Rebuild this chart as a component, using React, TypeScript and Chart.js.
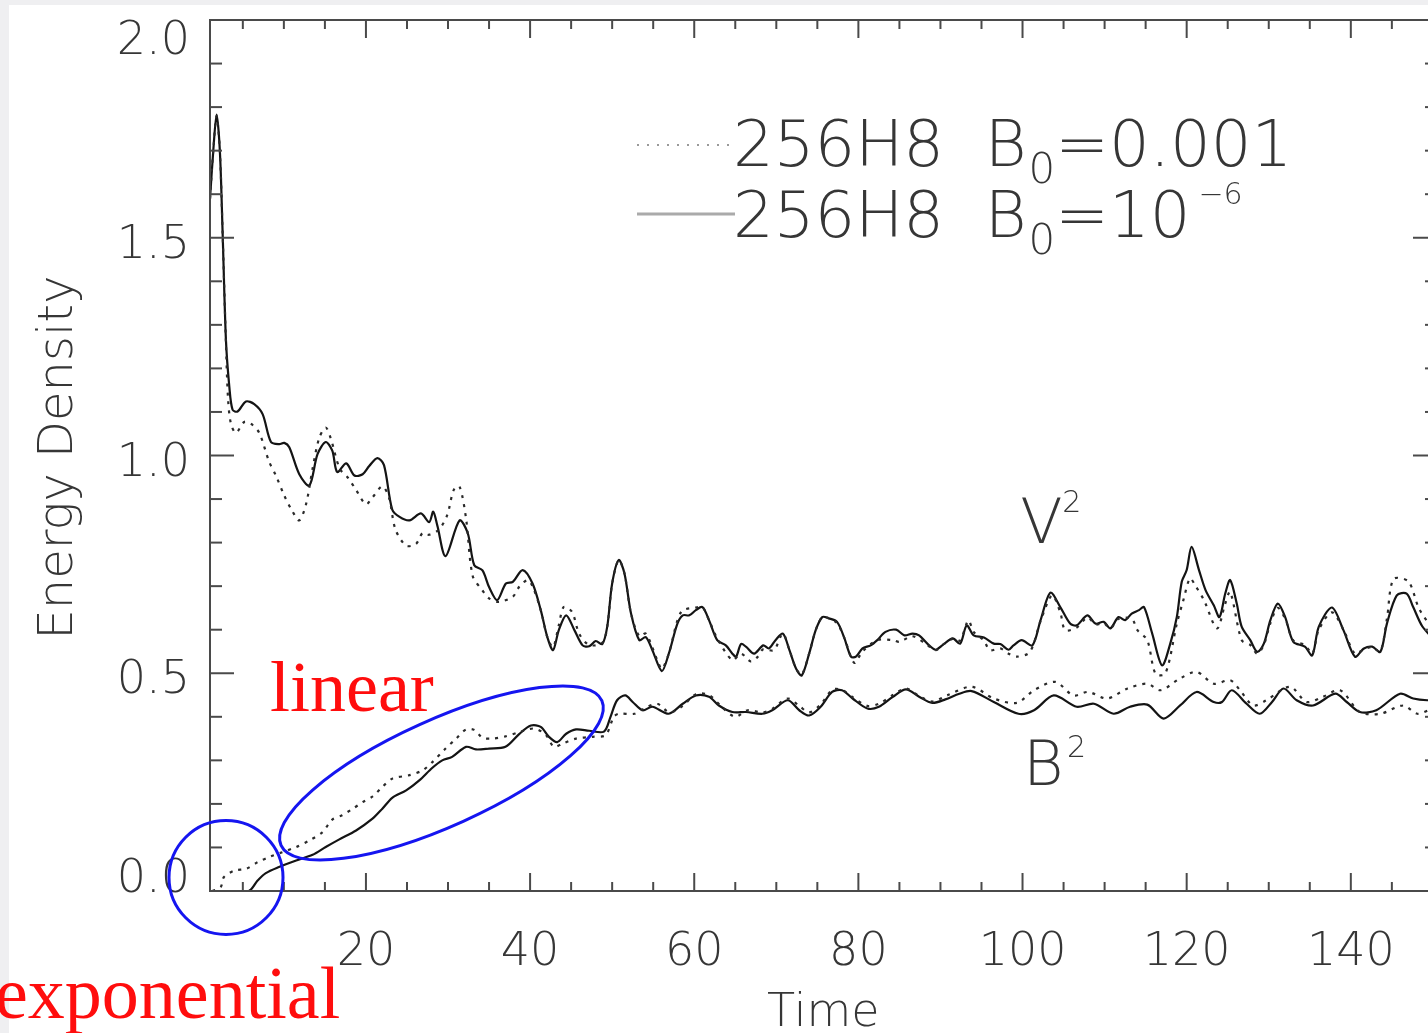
import { useEffect, useRef } from "react";
import { Chart, registerables } from "chart.js";

Chart.register(...registerables);

// ---------- data ----------
const vSolidT = [1.0, 1.4, 1.8, 2.2, 2.54, 2.94, 3.35, 3.75, 4.36, 5.38, 6.39, 7.41, 8.43, 9.44, 10.05, 10.66, 11.88, 13.1, 14.1, 15.1, 15.9, 16.5, 17.6, 18.6, 19.6, 20.4, 21.4, 22.2, 23.2, 24.1, 25.3, 26.7, 27.7, 28.2, 28.7, 29.7, 31.4, 32.4, 33.2, 34.2, 35.0, 36.0, 37.05, 37.9, 39.1, 40.3, 41.3, 42.1, 42.8, 43.5, 44.4, 45.4, 46.4, 47.2, 48.0, 48.8, 49.4, 50.0, 50.8, 51.5, 52.3, 53.3, 54.1, 54.9, 56.05, 56.9, 57.95, 58.6, 59.4, 60.2, 61.0, 61.8, 62.8, 63.85, 64.65, 65.1, 65.7, 66.3, 67.3, 68.4, 69.1, 69.9, 70.8, 71.6, 72.4, 73.1, 74.0, 74.8, 75.6, 76.4, 77.4, 78.25, 79.1, 79.7, 80.5, 81.5, 82.3, 83.3, 84.6, 85.6, 86.6, 87.4, 88.4, 89.4, 90.4, 91.5, 92.4, 93.2, 94.05, 95.3, 96.5, 97.3, 98.3, 98.9, 99.9, 101.2, 102.2, 103.4, 104.6, 105.8, 106.6, 107.9, 108.9, 109.9, 110.7, 111.7, 112.5, 113.3, 114.2, 114.8, 115.8, 117.0, 118.0, 118.8, 119.4, 120.0, 120.6, 121.5, 122.3, 123.3, 124.0, 124.7, 125.3, 126.1, 126.7, 127.75, 128.6, 129.4, 130.2, 131.1, 132.0, 133.0, 134.4, 135.3, 136.1, 137.7, 139.1, 140.5, 141.6, 142.6, 143.6, 144.4, 145.6, 146.8, 147.6, 148.7, 150.0];
const vSolidY = [1.59, 1.70, 1.783, 1.70, 1.51, 1.266, 1.159, 1.105, 1.101, 1.124, 1.118, 1.095, 1.031, 1.026, 1.029, 1.019, 0.957, 0.931, 1.003, 1.031, 1.011, 0.962, 0.982, 0.954, 0.957, 0.976, 0.994, 0.978, 0.876, 0.859, 0.851, 0.867, 0.847, 0.871, 0.839, 0.769, 0.851, 0.822, 0.748, 0.736, 0.698, 0.668, 0.706, 0.710, 0.737, 0.706, 0.645, 0.583, 0.553, 0.599, 0.633, 0.599, 0.564, 0.562, 0.574, 0.567, 0.607, 0.706, 0.760, 0.729, 0.637, 0.576, 0.583, 0.553, 0.505, 0.545, 0.614, 0.633, 0.633, 0.645, 0.652, 0.622, 0.576, 0.564, 0.545, 0.538, 0.567, 0.561, 0.545, 0.564, 0.557, 0.576, 0.591, 0.553, 0.511, 0.495, 0.545, 0.599, 0.629, 0.626, 0.618, 0.583, 0.538, 0.538, 0.557, 0.564, 0.576, 0.595, 0.600, 0.587, 0.591, 0.587, 0.568, 0.554, 0.567, 0.580, 0.568, 0.610, 0.587, 0.582, 0.568, 0.567, 0.554, 0.564, 0.576, 0.564, 0.622, 0.685, 0.652, 0.614, 0.610, 0.633, 0.614, 0.618, 0.603, 0.629, 0.622, 0.637, 0.645, 0.652, 0.591, 0.518, 0.568, 0.629, 0.710, 0.737, 0.790, 0.737, 0.691, 0.656, 0.629, 0.683, 0.714, 0.660, 0.607, 0.576, 0.549, 0.568, 0.622, 0.660, 0.629, 0.572, 0.561, 0.541, 0.607, 0.651, 0.599, 0.538, 0.557, 0.561, 0.549, 0.614, 0.679, 0.683, 0.652, 0.608, 0.580];

const vDotT = [1.0, 1.4, 1.8, 2.2, 2.54, 2.94, 3.2, 3.55, 4.16, 5.17, 5.98, 7.0, 8.2, 9.03, 10.05, 11.07, 11.88, 12.7, 13.5, 14.3, 15.1, 15.7, 16.8, 17.8, 18.8, 20.0, 20.8, 22.0, 22.8, 23.6, 24.9, 26.1, 26.9, 27.7, 28.9, 29.9, 30.7, 31.4, 32.2, 33.0, 34.2, 35.0, 36.2, 37.9, 38.7, 39.7, 40.3, 41.3, 42.1, 42.8, 43.5, 44.1, 45.1, 46.0, 47.2, 48.8, 49.4, 50.0, 50.8, 51.5, 52.3, 53.3, 54.1, 55.5, 56.05, 56.9, 58.4, 60.2, 61.0, 61.8, 62.8, 64.65, 65.7, 66.9, 67.7, 68.4, 69.7, 70.8, 71.6, 72.4, 73.1, 74.0, 74.8, 75.6, 76.4, 77.4, 78.25, 79.5, 80.5, 82.3, 84.2, 85.0, 86.6, 88.4, 89.4, 90.4, 91.6, 92.4, 93.4, 94.05, 95.3, 96.0, 97.3, 98.3, 99.3, 100.9, 102.2, 103.6, 104.6, 105.2, 106.6, 107.9, 108.9, 109.9, 110.7, 111.7, 113.3, 114.0, 115.2, 116.2, 117.4, 118.8, 119.6, 120.4, 121.0, 122.1, 123.7, 124.7, 125.3, 126.7, 127.75, 128.6, 129.4, 130.2, 131.1, 132.0, 133.0, 134.4, 135.3, 136.1, 137.7, 139.1, 140.5, 141.6, 142.6, 143.6, 144.4, 145.2, 147.0, 148.3, 150.0];
const vDotY = [1.59, 1.70, 1.78, 1.70, 1.51, 1.26, 1.13, 1.073, 1.052, 1.077, 1.073, 1.052, 0.986, 0.954, 0.908, 0.871, 0.851, 0.888, 0.970, 1.040, 1.064, 1.040, 0.970, 0.949, 0.921, 0.888, 0.904, 0.929, 0.904, 0.830, 0.793, 0.797, 0.822, 0.818, 0.830, 0.863, 0.921, 0.929, 0.855, 0.724, 0.690, 0.672, 0.664, 0.676, 0.699, 0.714, 0.700, 0.645, 0.583, 0.560, 0.610, 0.652, 0.641, 0.590, 0.565, 0.570, 0.607, 0.706, 0.760, 0.729, 0.637, 0.585, 0.591, 0.530, 0.510, 0.545, 0.641, 0.651, 0.652, 0.622, 0.580, 0.530, 0.545, 0.527, 0.537, 0.555, 0.553, 0.591, 0.553, 0.511, 0.497, 0.545, 0.599, 0.629, 0.626, 0.615, 0.583, 0.524, 0.550, 0.576, 0.576, 0.572, 0.585, 0.565, 0.553, 0.567, 0.580, 0.575, 0.621, 0.595, 0.575, 0.553, 0.557, 0.545, 0.538, 0.549, 0.620, 0.679, 0.640, 0.599, 0.605, 0.628, 0.612, 0.615, 0.603, 0.625, 0.625, 0.599, 0.576, 0.499, 0.499, 0.614, 0.668, 0.718, 0.703, 0.668, 0.603, 0.660, 0.687, 0.576, 0.565, 0.545, 0.565, 0.615, 0.650, 0.625, 0.575, 0.565, 0.545, 0.600, 0.640, 0.600, 0.545, 0.555, 0.560, 0.550, 0.625, 0.716, 0.711, 0.649, 0.600];

const bSolidT = [1.0, 5.7, 6.8, 7.8, 9.4, 11.5, 13.5, 15.1, 16.7, 18.8, 20.8, 22.0, 23.2, 24.9, 26.5, 28.1, 29.3, 30.5, 32.2, 33.4, 35.0, 37.0, 38.7, 40.1, 41.3, 42.3, 43.3, 44.4, 45.6, 47.2, 49.0, 49.8, 50.6, 51.6, 52.5, 53.7, 54.9, 56.9, 58.6, 60.2, 61.8, 63.0, 64.65, 66.3, 68.3, 69.5, 71.4, 72.8, 74.0, 75.4, 76.8, 78.0, 79.3, 81.1, 82.5, 84.2, 85.8, 87.4, 89.0, 90.6, 92.3, 93.8, 96.5, 99.5, 101.4, 103.8, 106.6, 108.7, 111.1, 113.1, 115.2, 117.2, 119.2, 121.2, 123.3, 124.3, 125.5, 127.3, 128.9, 130.4, 131.8, 133.4, 135.4, 138.1, 139.5, 141.1, 143.1, 146.0, 147.6, 149.3, 150.0];
const bSolidY = [0.0, 0.0, 0.024, 0.041, 0.055, 0.070, 0.083, 0.101, 0.118, 0.139, 0.166, 0.189, 0.214, 0.231, 0.254, 0.283, 0.300, 0.308, 0.331, 0.325, 0.327, 0.331, 0.361, 0.380, 0.377, 0.354, 0.342, 0.361, 0.371, 0.368, 0.366, 0.400, 0.438, 0.449, 0.434, 0.415, 0.423, 0.407, 0.430, 0.449, 0.446, 0.426, 0.411, 0.411, 0.407, 0.415, 0.438, 0.415, 0.403, 0.423, 0.457, 0.461, 0.442, 0.419, 0.423, 0.446, 0.463, 0.446, 0.432, 0.440, 0.453, 0.459, 0.434, 0.407, 0.415, 0.449, 0.423, 0.430, 0.407, 0.423, 0.428, 0.396, 0.426, 0.457, 0.434, 0.434, 0.461, 0.430, 0.407, 0.434, 0.465, 0.438, 0.426, 0.453, 0.434, 0.411, 0.415, 0.453, 0.442, 0.438, 0.440];

const bDotT = [1.3, 2.3, 2.7, 4.0, 5.4, 6.8, 8.2, 9.8, 11.5, 13.1, 14.7, 15.9, 17.1, 18.4, 19.6, 20.8, 22.0, 23.2, 25.3, 26.9, 28.1, 29.7, 31.0, 32.2, 33.2, 34.2, 35.4, 37.0, 38.7, 40.5, 41.9, 42.9, 43.9, 45.6, 47.6, 49.2, 50.2, 50.8, 52.7, 54.0, 55.5, 57.0, 58.6, 60.2, 61.8, 63.5, 65.0, 66.5, 68.3, 69.5, 71.4, 72.8, 74.0, 75.4, 76.8, 78.0, 79.3, 81.1, 82.5, 84.2, 85.8, 87.4, 89.0, 90.8, 93.8, 96.5, 99.3, 101.4, 104.0, 106.2, 108.0, 110.3, 112.8, 115.2, 116.8, 119.2, 121.2, 123.3, 125.3, 126.5, 128.1, 129.7, 132.6, 134.6, 136.6, 138.7, 141.1, 143.6, 146.4, 148.1, 150.0];
const bDotY = [0.0, 0.009, 0.032, 0.047, 0.051, 0.066, 0.078, 0.089, 0.101, 0.116, 0.135, 0.164, 0.174, 0.189, 0.204, 0.217, 0.239, 0.258, 0.266, 0.277, 0.296, 0.327, 0.350, 0.371, 0.370, 0.352, 0.350, 0.355, 0.365, 0.373, 0.359, 0.331, 0.338, 0.350, 0.354, 0.358, 0.400, 0.407, 0.407, 0.420, 0.430, 0.410, 0.425, 0.452, 0.450, 0.420, 0.400, 0.415, 0.410, 0.418, 0.442, 0.425, 0.410, 0.428, 0.462, 0.462, 0.445, 0.425, 0.430, 0.450, 0.465, 0.448, 0.435, 0.449, 0.469, 0.442, 0.432, 0.461, 0.480, 0.449, 0.457, 0.442, 0.465, 0.476, 0.461, 0.488, 0.503, 0.476, 0.484, 0.461, 0.426, 0.438, 0.469, 0.434, 0.446, 0.461, 0.411, 0.407, 0.426, 0.407, 0.420];

const xTickValues = [20, 40, 60, 80, 100, 120, 140];
const xTickLabels = ["20", "40", "60", "80", "100", "120", "140"];
const yTickValues = [0, 0.5, 1.0, 1.5, 2.0];
const yTickLabels = ["0.0", "0.5", "1.0", "1.5", "2.0"];
const xTitle = "Time";
const yTitle = "Energy Density";
const legendMain = ["256H8  B", "256H8  B"];
const legendSub = ["0", "0"];
const legendRest = ["=0.001", "=10"];
const legendSup = ["", "\u22126"];

// ---------- style ----------
const FONT = '"DejaVu Sans", sans-serif';
const TEXT_COLOR = "#363636";
const AXIS_COLOR = "#4a4a4a";

const toPts = (t: number[], v: number[]) => t.map((x, i) => ({ x, y: v[i] }));

export default function App() {
  const ref = useRef<HTMLCanvasElement | null>(null);

  useEffect(() => {
    const canvas = ref.current;
    if (!canvas) return;

    const decor = {
      id: "decor",
      beforeDraw(chart: any) {
        const { ctx, width, height } = chart;
        ctx.save();
        ctx.fillStyle = "#ffffff";
        ctx.fillRect(0, 0, width, height);
        ctx.fillStyle = "#efeff1";
        ctx.fillRect(0, 0, width, 5);
        ctx.fillRect(0, 0, 9, height);
        ctx.restore();
      },
      afterDatasetsDraw(chart: any) {
        const { ctx, chartArea: a, scales } = chart;
        const x = scales.x;
        const y = scales.y;
        ctx.save();
        // frame
        ctx.strokeStyle = AXIS_COLOR;
        ctx.lineWidth = 2;
        ctx.strokeRect(a.left, a.top, a.right - a.left, a.bottom - a.top);
        const line = (x1: number, y1: number, x2: number, y2: number) => {
          ctx.beginPath();
          ctx.moveTo(x1, y1);
          ctx.lineTo(x2, y2);
          ctx.stroke();
        };
        for (let v = 5; v <= x.max; v += 5) {
          const px = x.getPixelForValue(v);
          const len = v % 20 === 0 ? 18 : 9;
          line(px, a.bottom, px, a.bottom - len);
          line(px, a.top, px, a.top + len);
        }
        for (let i = 1; i < 20; i++) {
          const py = y.getPixelForValue(i / 10);
          const len = i % 5 === 0 ? 24 : 12;
          line(a.left, py, a.left + len, py);
          line(a.right, py, a.right - len, py);
        }
        // tick labels
        ctx.fillStyle = TEXT_COLOR;
        ctx.font = `200 46px ${FONT}`;
        ctx.textBaseline = "alphabetic";
        ctx.textAlign = "center";
        xTickValues.forEach((v, i) => {
          ctx.fillText(xTickLabels[i], x.getPixelForValue(v), a.bottom + 74);
        });
        ctx.textAlign = "right";
        yTickValues.forEach((v, i) => {
          let c = y.getPixelForValue(v) + 3;
          c = Math.max(a.top + 17, Math.min(a.bottom - 16, c));
          ctx.fillText(yTickLabels[i], a.left - 20, c + 17);
        });
        // titles
        ctx.textAlign = "center";
        ctx.font = `200 46px ${FONT}`;
        ctx.fillText(xTitle, x.getPixelForValue(80) - 35, a.bottom + 135);
        ctx.save();
        ctx.translate(72, (a.top + a.bottom) / 2 + 2);
        ctx.rotate(-Math.PI / 2);
        ctx.font = `200 48px ${FONT}`;
        ctx.fillText(yTitle, 0, 0);
        ctx.restore();

        // legend
        const legX = 737;
        const rows = [166, 237];
        ctx.textAlign = "left";
        rows.forEach((base, r) => {
          const ly = base - 21 + (r === 0 ? 0 : -2);
          ctx.save();
          if (r === 0) {
            ctx.strokeStyle = "#9a9a9a";
            ctx.lineWidth = 2;
            ctx.setLineDash([2, 8]);
          } else {
            ctx.strokeStyle = "#aaaaaa";
            ctx.lineWidth = 3;
          }
          line(legX - 100, ly, legX - 2, ly);
          ctx.restore();
          let cx = legX - 4;
          ctx.font = `200 64px ${FONT}`;
          ctx.fillText(legendMain[r], cx, base);
          cx += ctx.measureText(legendMain[r]).width;
          ctx.font = `200 42px ${FONT}`;
          ctx.fillText(legendSub[r], cx + 2, base + 17);
          cx += ctx.measureText(legendSub[r]).width + 2;
          ctx.font = `200 64px ${FONT}`;
          ctx.fillText(legendRest[r], cx, base);
          cx += ctx.measureText(legendRest[r]).width;
          if (legendSup[r]) {
            ctx.font = `200 30px ${FONT}`;
            ctx.fillText(legendSup[r], cx + 8, base - 33);
          }
        });

        // V^2 and B^2 labels
        const vx = x.getPixelForValue(100.2);
        const vb = y.getPixelForValue(0.80);
        ctx.font = `200 62px ${FONT}`;
        ctx.fillText("V", vx - 4, vb);
        ctx.font = `200 30px ${FONT}`;
        ctx.fillText("2", vx + 38, vb - 31);
        const bx = x.getPixelForValue(100.8);
        const bb = y.getPixelForValue(0.243);
        ctx.font = `200 62px ${FONT}`;
        ctx.fillText("B", bx - 6, bb);
        ctx.font = `200 30px ${FONT}`;
        ctx.fillText("2", bx + 38, bb - 28);

        // red annotations
        ctx.fillStyle = "#ff0d0d";
        ctx.font = `72px "Liberation Serif", "Times New Roman", serif`;
        ctx.fillText("linear", x.getPixelForValue(8.3), y.getPixelForValue(0.413));
        ctx.font = `74px "Liberation Serif", "Times New Roman", serif`;
        ctx.fillText("exponential", -5, 1018);

        // blue ellipses
        ctx.strokeStyle = "#1515f0";
        ctx.lineWidth = 3;
        ctx.beginPath();
        ctx.ellipse(x.getPixelForValue(2.95), y.getPixelForValue(0.031), 57, 57, 0, 0, Math.PI * 2);
        ctx.stroke();
        ctx.beginPath();
        ctx.ellipse(x.getPixelForValue(29.2), y.getPixelForValue(0.271), 176, 53, (-24.3 * Math.PI) / 180, 0, Math.PI * 2);
        ctx.stroke();
        ctx.restore();
      },
    };

    const chart = new Chart(canvas, {
      type: "line",
      data: {
        datasets: [
          {
            label: "V2 B0=0.001",
            data: toPts(vDotT, vDotY),
            borderColor: "#2a2a2a",
            borderWidth: 2.2,
            borderDash: [3, 6],
            pointRadius: 0,
            tension: 0.3,
          },
          {
            label: "B2 B0=0.001",
            data: toPts(bDotT, bDotY),
            borderColor: "#2a2a2a",
            borderWidth: 2.2,
            borderDash: [3, 6],
            pointRadius: 0,
            tension: 0.3,
          },
          {
            label: "V2 B0=1e-6",
            data: toPts(vSolidT, vSolidY),
            borderColor: "#141414",
            borderWidth: 2.2,
            pointRadius: 0,
            tension: 0.3,
          },
          {
            label: "B2 B0=1e-6",
            data: toPts(bSolidT, bSolidY),
            borderColor: "#141414",
            borderWidth: 2.2,
            pointRadius: 0,
            tension: 0.3,
          },
        ],
      },
      options: {
        animation: false,
        responsive: false,
        devicePixelRatio: 1,
        layout: { padding: { left: 210, top: 20, right: 23, bottom: 142 } },
        plugins: { legend: { display: false }, tooltip: { enabled: false } },
        scales: {
          x: { type: "linear", min: 1, max: 150.5, display: false },
          y: { type: "linear", min: 0, max: 2, display: false },
        },
      },
      plugins: [decor],
    });
    return () => chart.destroy();
  }, []);

  return (
    <div style={{ position: "fixed", left: 0, top: 0, width: 1428, height: 1033, overflow: "hidden", background: "#fff" }}>
      <canvas ref={ref} width={1460} height={1033} style={{ display: "block" }} />
    </div>
  );
}
